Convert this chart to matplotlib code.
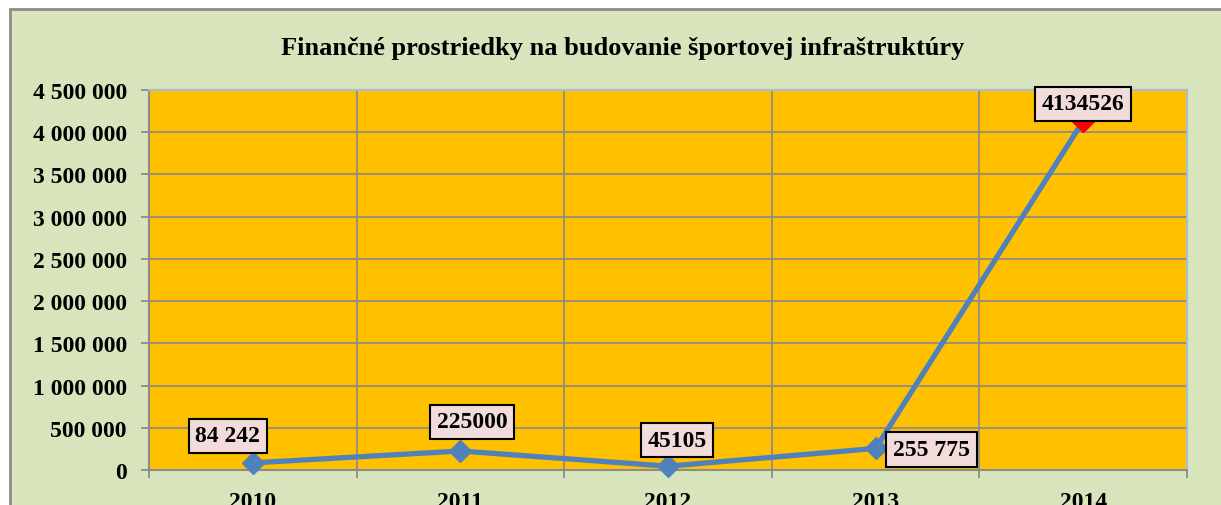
import numpy as np
import matplotlib.pyplot as plt
from matplotlib.patches import Rectangle
from matplotlib.ticker import FuncFormatter

# data
years = ['2010', '2011', '2012', '2013', '2014']
values = [84242, 225000, 45105, 255775, 4134526]
point_labels = ['84 242', '225000', '45105', '255 775', '4134526']
label_offsets = [(-25, 27), (12, 29), (9, 26), (56, -1), (0, 17)]  # pixels

plt.rcParams['font.family'] = ['Liberation Serif', 'DejaVu Serif']
plt.rcParams['font.weight'] = 'bold'

W, H = 1221, 506
fig = plt.figure(figsize=(W / 100, H / 100), dpi=100)
fig.patch.set_facecolor('white')

# green chart area with gray frame
fig.patches.append(Rectangle((10 / W, -0.1), 1.2, (H - 10) / H + 0.1, transform=fig.transFigure,
                             facecolor='#D8E4BC', edgecolor='#8C8C8C', linewidth=2, zorder=-1))

ax = fig.add_axes([149 / W, (H - 471) / H, (1187 - 149) / W, (471 - 91) / H])
ax.set_facecolor('#FFC000')

x = np.arange(len(years))
ax.plot(x, values, color='#4F81BD', linewidth=3.8, marker='D', markersize=11,
        markerfacecolor='#4F81BD', markeredgecolor='#4F81BD', zorder=3, clip_on=False)
ax.plot(x[-1], values[-1], marker='D', markersize=11, color='red', zorder=4, clip_on=False)

for xi, v, lab, off in zip(x, values, point_labels, label_offsets):
    ax.annotate(lab, (xi, v), xytext=off, textcoords='offset pixels', ha='center', va='center',
                fontsize=17, fontweight='bold', zorder=5,
                bbox=dict(boxstyle='square,pad=0.28', facecolor='#F2DCDB', edgecolor='black', linewidth=1.5))

ax.set_xlim(-0.5, 4.5)
ax.set_ylim(0, 4500000)
ax.set_yticks(np.arange(0, 4500001, 500000))
ax.yaxis.set_major_formatter(FuncFormatter(lambda v, p: f'{int(v):,}'.replace(',', ' ')))
ax.set_xticks(x)
ax.set_xticklabels(years)
ax.set_xticks(np.arange(-0.5, 5, 1), minor=True)

ax.grid(True, which='major', axis='y', color='#8C8C8C', linewidth=1.3)
ax.grid(True, which='minor', axis='x', color='#8C8C8C', linewidth=1.3)
ax.set_axisbelow(True)

ax.tick_params(axis='y', labelsize=17, length=6, width=1.3, color='#8C8C8C', pad=10)
ax.tick_params(axis='x', which='major', labelsize=17, length=0, pad=15)
ax.tick_params(axis='x', which='minor', length=6, width=1.3, color='#8C8C8C')
for t in ax.get_xticklabels() + ax.get_yticklabels():
    t.set_fontweight('bold')

for s in ['left', 'bottom']:
    ax.spines[s].set_color('#8C8C8C')
    ax.spines[s].set_linewidth(1.5)
for s in ['top', 'right']:
    ax.spines[s].set_color('#A6BDDB')
    ax.spines[s].set_linewidth(1.5)

fig.text(623 / W, 1 - 48 / H, 'Finančné prostriedky na budovanie športovej infraštruktúry',
         ha='center', va='center', fontsize=19, fontweight='bold')

fig.savefig('out.png', dpi=100)
